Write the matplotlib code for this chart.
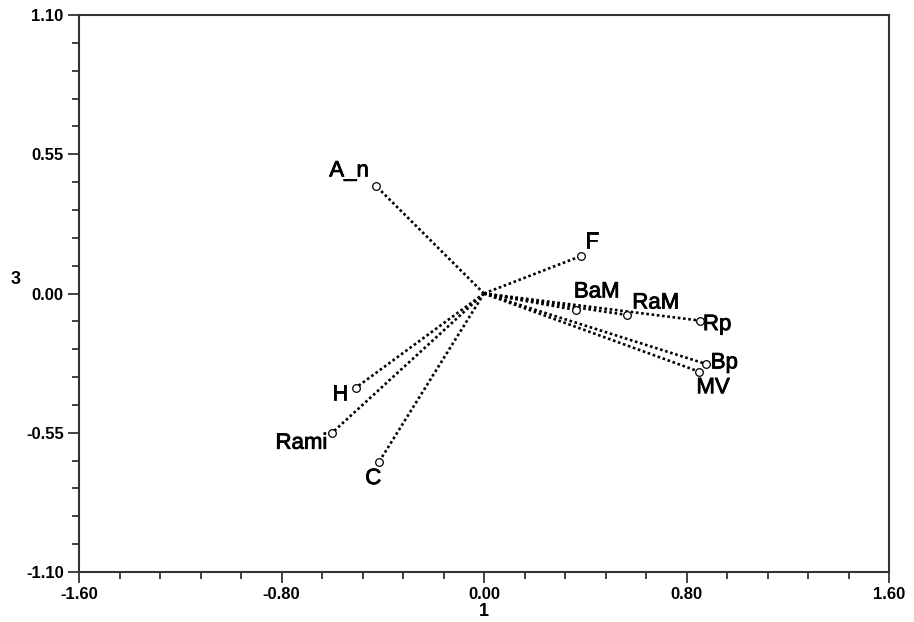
import matplotlib
matplotlib.use("Agg")
import matplotlib.pyplot as plt
import matplotlib.patheffects as pe
from matplotlib.ticker import MultipleLocator, FixedLocator
import numpy as np

labels = ["A_n", "F", "BaM", "RaM", "Rp", "Bp", "MV", "H", "Rami", "C"]
axis1 = [-0.427, 0.383, 0.363, 0.566, 0.853, 0.876, 0.851, -0.506, -0.602, -0.414]
axis3 = [0.425, 0.148, -0.065, -0.085, -0.107, -0.278, -0.309, -0.372, -0.552, -0.664]

xticks = [-1.60, -0.80, 0.00, 0.80, 1.60]
yticks = [-1.10, -0.55, 0.00, 0.55, 1.10]

# label offsets in pixels (dx, dy) and horizontal alignment
offsets = {
    "A_n": (-7, 15, "right"),
    "F": (4, 14, "left"),
    "BaM": (-2, 18, "left"),
    "RaM": (5, 12, "left"),
    "Rp": (3, -4, "left"),
    "Bp": (5, 1, "left"),
    "MV": (-3, -16, "left"),
    "H": (-8, -7, "right"),
    "Rami": (-4, -10, "right"),
    "C": (-6, -17, "center"),
}

plt.rcParams['font.family'] = ['Liberation Sans', 'DejaVu Sans']

fig = plt.figure(figsize=(9.14, 6.22), dpi=100)
ax = fig.add_axes([79/914, 1-572/622, 810/914, 557/622])

for lab, x, y in zip(labels, axis1, axis3):
    ax.plot([0, x], [0, y], linestyle=(0, (1, 1.0)), color="black", lw=1.9)
ax.plot(axis1, axis3, linestyle="none", marker="o", markersize=5.5,
        markerfacecolor="white", markeredgecolor="black", markeredgewidth=0.9, zorder=3)

for lab, x, y in zip(labels, axis1, axis3):
    dx, dy, ha = offsets[lab]
    ax.annotate(lab, (x, y), xytext=(dx*0.72, dy*0.72), textcoords="offset points",
                ha=ha, va="center", fontsize=16, color="black",
                path_effects=[pe.withStroke(linewidth=0.6, foreground="black")])

ax.set_xlim(-1.6, 1.6)
ax.set_ylim(-1.1, 1.1)
ax.xaxis.set_major_locator(FixedLocator(xticks))
ax.yaxis.set_major_locator(FixedLocator(yticks))
ax.xaxis.set_minor_locator(MultipleLocator(0.16))
ax.yaxis.set_minor_locator(MultipleLocator(0.11))
ax.set_xticklabels([f"{v:.2f}" for v in xticks], fontweight="bold", fontsize=12)
ax.set_yticklabels([f"{v:.2f}" for v in yticks], fontweight="bold", fontsize=12)
ax.tick_params(which="major", direction="out", length=8, width=1.3, pad=3, color="#333333")
ax.tick_params(which="minor", direction="out", length=5, width=1.3, color="#333333")
for s in ax.spines.values():
    s.set_linewidth(1.5)
    s.set_color("#333333")

fig.text(16/914, 1-279/622, "3", fontweight="bold", fontsize=13, ha="center", va="center")
fig.text(484/914, 1-612/622, "1", fontweight="bold", fontsize=13, ha="center", va="center")

fig.savefig("out.png", dpi=100)
